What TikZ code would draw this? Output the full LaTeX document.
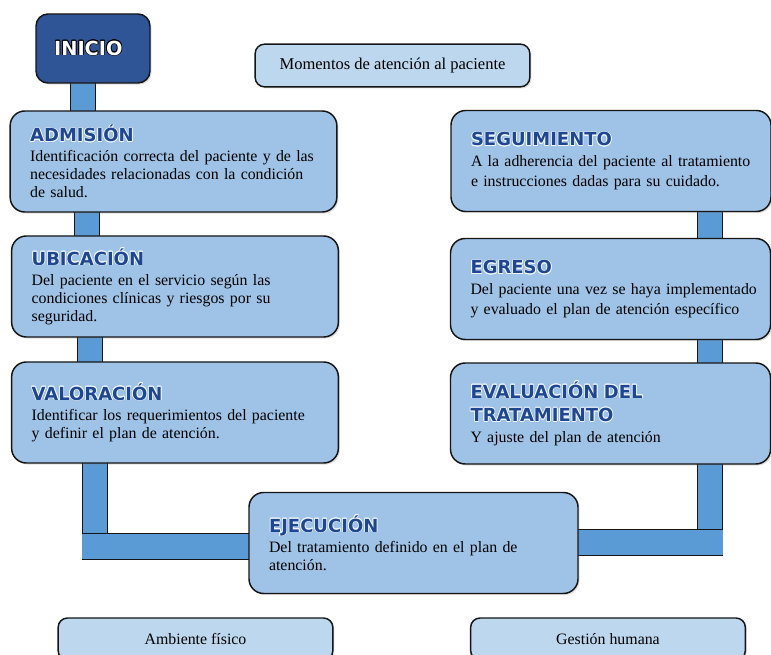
\documentclass[tikz,border=0pt]{standalone}
\usepackage{fontspec}
\usepackage{contour}
\contourlength{0.5pt}
\contournumber{16}
\setmainfont{Liberation Serif}
\newfontfamily\ttlfont{DejaVu Sans}
\usetikzlibrary{shadows,calc}
\definecolor{boxblue}{HTML}{9FC3E7}
\definecolor{lightblue}{HTML}{BDD7EE}
\definecolor{barblue}{HTML}{5B9BD5}
\definecolor{darkblue}{HTML}{2F5597}
\definecolor{ttlblue}{HTML}{1F4690}
\definecolor{edgecol}{HTML}{151515}
\newcommand{\steptitle}[1]{{\ttlfont\bfseries\fontsize{13.5}{13.5}\selectfont\color{ttlblue}\contour{white!85!boxblue}{#1}}}
\pgfdeclarelayer{background}
\pgfsetlayers{background,main}
\tikzset{
  cardbase/.style={draw=edgecol, line width=1.1pt, rounded corners=11pt,
    drop shadow={opacity=0.25, shadow xshift=1.2pt, shadow yshift=-1.2pt}},
  stepcard/.style={cardbase, fill=boxblue, minimum height=75.75pt, align=left,
    inner xsep=15pt, font=\fontsize{11.9}{13.5}\selectfont},
  leftcard/.style={stepcard, text width=215pt},
  rightcard/.style={stepcard, text width=210pt, font=\fontsize{11.9}{14.6}\selectfont},
  midcard/.style={stepcard, text width=216.75pt},
  infocard/.style={cardbase, fill=lightblue, rounded corners=7pt, align=center,
    minimum width=206pt, minimum height=30pt},
  bar/.style={draw=edgecol, line width=0.8pt, double=barblue, double distance=18pt},
}
\begin{document}
\begin{tikzpicture}[x=0.75pt,y=-0.75pt]
\useasboundingbox (0,0) rectangle (771,655);
% coordinates for bars
\coordinate (xa) at (83,0);
\coordinate (xb) at (87,0);
\coordinate (xc) at (90,0);
\coordinate (xd) at (95,0);
\coordinate (xdl) at (82,0);
\coordinate (yd) at (0,546.5);
\coordinate (ydb) at (0,560);
\coordinate (xe) at (710,0);
\coordinate (xer) at (723,0);
\coordinate (ye) at (0,542.5);
\coordinate (yeb) at (0,556);
% nodes
\node[cardbase, fill=darkblue, rounded corners=9pt, minimum width=85.5pt, minimum height=51.75pt,
  font=\ttlfont\bfseries\fontsize{14.5}{14.5}\selectfont, text=white] (inicio) at (93,48.5) {\contour{black}{INICIO}\kern7pt};
\node[infocard, minimum height=32pt, font=\fontsize{12.4}{14}\selectfont] (momentos) at (392.5,65.5) {Momentos de atención al paciente};
\node[leftcard] (adm) at (173.5,161.5) {\steptitle{ADMISIÓN}\\[1.5pt]
Identificación correcta del paciente y de las\\ necesidades relacionadas con la condición\\ de salud.};
\node[leftcard] (ubi) at (175,286.5) {\steptitle{UBICACIÓN}\\[1.5pt]
Del paciente en el servicio según las\\ condiciones clínicas y riesgos por su\\ seguridad.};
\node[leftcard] (val) at (175,412.5) {\steptitle{VALORACIÓN}\\[1.5pt]
Identificar los requerimientos del paciente\\ y definir el plan de atención.};
\node[rightcard] (seg) at (611,161) {\steptitle{SEGUIMIENTO}\\[1pt]
\mbox{A la adherencia del paciente al tratamiento}\\ e instrucciones dadas para su cuidado.};
\node[rightcard] (egr) at (610.5,289) {\steptitle{EGRESO}\\[1pt]
\mbox{Del paciente una vez se haya implementado}\\ \mbox{y evaluado el plan de atención específico}};
\node[rightcard] (eva) at (610.5,413.5) {\steptitle{EVALUACIÓN DEL}\\[3pt]\steptitle{TRATAMIENTO}\\[1pt]
Y ajuste del plan de atención};
\node[midcard] (eje) at (413.5,543) {\steptitle{EJECUCIÓN}\\[1.5pt]
Del tratamiento definido en el plan de\\ atención.};
\node[infocard, minimum height=31.5pt, font=\fontsize{11.9}{13.5}\selectfont] (amb) at (195.5,639) {Ambiente físico};
\node[infocard, minimum height=31.5pt, font=\fontsize{11.9}{13.5}\selectfont] (ges) at (608,639) {Gestión humana};
% bars (behind boxes)
\begin{pgfonlayer}{background}
\draw[bar, shorten <=-4pt, shorten >=-4pt] (inicio.south -| xa) -- (adm.north -| xa);
\draw[bar, shorten <=-4pt, shorten >=-4pt] (adm.south -| xb) -- (ubi.north -| xb);
\draw[bar, shorten <=-4pt, shorten >=-4pt] (ubi.south -| xc) -- (val.north -| xc);
\draw[bar, shorten <=-4pt] (val.south -| xd) -- (xd |- ydb);
\draw[bar, shorten >=-4pt] (xdl |- yd) -- (eje.west |- yd);
\draw[bar, shorten <=-4pt, shorten >=-4pt] (seg.south -| xe) -- (egr.north -| xe);
\draw[bar, shorten <=-4pt, shorten >=-4pt] (egr.south -| xe) -- (eva.north -| xe);
\draw[bar, shorten <=-4pt] (eva.south -| xe) -- (xe |- yeb);
\draw[bar, shorten >=-4pt] (xer |- ye) -- (eje.east |- ye);
\end{pgfonlayer}
\end{tikzpicture}
\end{document}
